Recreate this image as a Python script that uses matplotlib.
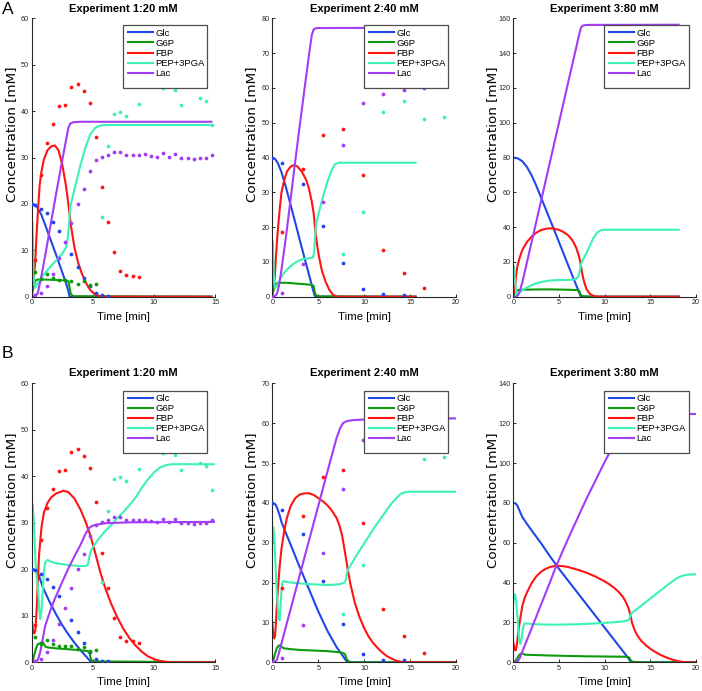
import matplotlib
matplotlib.use('Agg')
import matplotlib.pyplot as plt
from matplotlib.patches import Rectangle
from matplotlib.lines import Line2D

# ---------------- labels / style ----------------
species = ['Glc', 'G6P', 'FBP', 'PEP+3PGA', 'Lac']
colors = ['#2147e6', '#0e9a0e', '#ff1414', '#3cf2b4', '#a23cf5']
titles = ['Experiment 1:20 mM', 'Experiment 2:40 mM', 'Experiment 3:80 mM']
xmax = [15, 20, 20]
ymax_A = [60, 80, 160]
ymax_B = [60, 70, 140]
ystep_A = [10, 10, 20]
ystep_B = [10, 10, 20]

# ---------------- experimental data (dots) ----------------
exp1_glc_t = [0, 0.25, 0.75, 1.25, 1.75, 2.25, 3.25, 3.75, 4.25, 4.75, 5.25, 5.75, 6.25]
exp1_glc = [20, 19.8, 19.0, 18.0, 16.2, 14.2, 9.1, 6.5, 4.1, 2.2, 0.7, 0.36, 0.2]
exp1_g6p_t = [0.25, 0.75, 1.25, 1.75, 2.25, 2.75, 3.25, 3.75, 4.25, 4.75, 5.25]
exp1_g6p = [5.4, 3.9, 4.9, 4.0, 3.6, 3.6, 3.4, 2.8, 3.3, 2.5, 2.7]
exp1_fbp_t = [0.25, 0.75, 1.25, 1.75, 2.25, 2.75, 3.25, 3.75, 4.25, 4.75, 5.25, 5.75,
              6.25, 6.75, 7.25, 7.75, 8.25, 8.75]
exp1_fbp = [8.0, 26.2, 33.2, 37.2, 41.1, 41.3, 45.3, 45.8, 44.4, 41.8, 34.5, 23.6,
            16.0, 9.6, 5.5, 4.6, 4.5, 4.2]
exp1_pep_t = [5.75, 6.25, 6.75, 7.25, 7.75, 8.75, 10.75, 11.75, 12.25, 13.75, 14.25, 14.75]
exp1_pep = [17.2, 32.5, 39.4, 39.8, 38.9, 41.6, 45.0, 44.5, 41.3, 42.8, 42.2, 37.0]
exp1_lac_t = [0.25, 0.75, 1.25, 1.75, 2.25, 2.75, 3.25, 3.75, 4.25, 4.75, 5.25, 5.75,
              6.25, 6.75, 7.25, 7.75, 8.25, 8.75, 9.25, 9.75, 10.25, 10.75, 11.25,
              11.75, 12.25, 12.75, 13.25, 13.75, 14.25, 14.75]
exp1_lac = [0.3, 0.7, 2.3, 4.9, 8.3, 11.7, 15.9, 20.0, 23.3, 27.1, 29.5, 30.2,
            30.5, 31.2, 31.2, 30.5, 30.5, 30.5, 30.7, 30.4, 30.2, 30.9, 30.2,
            30.8, 30.0, 30.0, 29.7, 30.0, 30.0, 30.6]

exp2_glc_t = [0, 1.1, 3.3, 5.5, 7.7, 9.9, 12.1, 14.3]
exp2_glc = [40, 38.3, 32.3, 20.4, 9.7, 2.1, 0.7, 0.5]
exp2_fbp_t = [1.1, 3.3, 5.5, 7.7, 9.9, 12.1, 14.3, 16.5]
exp2_fbp = [18.7, 36.8, 46.5, 48.3, 35.0, 13.3, 6.7, 2.4]
exp2_pep_t = [7.7, 9.9, 12.1, 14.3, 16.5, 18.7]
exp2_pep = [12.2, 24.4, 53.2, 56.2, 51.1, 51.5]
exp2_lac_t = [0, 1.1, 3.3, 5.5, 7.7, 9.9, 12.1, 14.3, 16.5]
exp2_lac = [0, 1.2, 9.4, 27.3, 43.6, 55.7, 58.2, 59.4, 60.0]

# ---------------- model curves, model A ----------------
A1_glc_t = [0, 0.2, 0.4, 0.8, 1.2, 1.6, 2.0, 2.4, 2.8, 3.0, 3.1, 14.7]
A1_glc = [20, 19.9, 19.5, 17.6, 14.8, 11.9, 9.0, 6.0, 3.0, 1.2, 0, 0]
A1_g6p_t = [0, 0.1, 0.3, 0.5, 1.0, 2.0, 2.8, 3.0, 3.1, 3.2, 3.4, 14.7]
A1_g6p = [0, 1.5, 3.5, 3.7, 3.7, 3.6, 3.5, 3.3, 2.0, 0.6, 0.1, 0]
A1_fbp_t = [0, 0.1, 0.2, 0.3, 0.4, 0.5, 0.65, 0.8, 1.0, 1.3, 1.6, 1.9, 2.2, 2.5, 2.8,
            3.0, 3.2, 3.5, 3.8, 4.1, 4.5, 4.8, 5.2, 5.6, 6.0, 14.7]
A1_fbp = [4, 2.5, 4.5, 8, 13.5, 18, 24, 27, 29.6, 31.6, 32.4, 32.6, 31.5, 28.5, 24,
          20, 15.5, 10.6, 7.3, 5.0, 2.7, 1.4, 0.5, 0.1, 0, 0]
A1_pep_t = [0, 0.05, 0.1, 0.15, 0.22, 0.3, 0.5, 1.0, 1.5, 2.0, 2.5, 2.8, 2.95, 3.05,
            3.15, 3.3, 3.6, 4.0, 4.4, 4.8, 5.2, 5.6, 6.0, 14.7]
A1_pep = [15, 16, 12, 5, 2.5, 2.0, 3.0, 4.8, 6.4, 7.8, 9.3, 10.6, 12.5, 15.5,
          19.3, 21, 24.2, 28.5, 32.2, 35, 36.4, 36.9, 37, 37]
A1_lac_t = [0, 0.3, 0.5, 0.8, 1.2, 1.6, 2.0, 2.4, 2.8, 3.0, 3.15, 3.4, 4.0, 14.7]
A1_lac = [0, 0.1, 0.8, 4.5, 10.3, 16.3, 22.2, 28, 33.6, 36.4, 37.3, 37.6, 37.7, 37.7]

A2_glc_t = [0, 0.3, 0.6, 1.0, 1.5, 2.0, 2.5, 3.0, 3.5, 4.0, 4.4, 4.6, 4.7, 15.6]
A2_glc = [40, 39.6, 38.4, 35.8, 31.3, 26.3, 21.3, 16.2, 11.2, 6.3, 2.3, 0.4, 0, 0]
A2_g6p_t = [0, 0.1, 0.3, 0.6, 1.5, 2.5, 3.5, 4.3, 4.5, 4.65, 4.8, 5.2, 15.6]
A2_g6p = [0, 1.5, 3.5, 4.0, 4.0, 3.8, 3.6, 3.4, 3.1, 1.0, 0.3, 0.1, 0]
A2_fbp_t = [0, 0.1, 0.2, 0.3, 0.4, 0.5, 0.6, 0.8, 1.0, 1.3, 1.6, 2.0, 2.3, 2.7, 3.2,
            3.7, 4.0, 4.3, 4.5, 4.7, 4.9, 5.1, 5.4, 5.8, 6.2, 6.6, 7.0, 15.6]
A2_fbp = [4, 2.5, 3.5, 7, 11.5, 15.5, 19, 25, 30, 33.5, 36, 37.4, 37.8, 37.5, 36,
          33.5, 31, 27.3, 24, 18.5, 14.5, 11.3, 7.5, 4.3, 2.0, 0.6, 0, 0]
A2_pep_t = [0, 0.05, 0.1, 0.2, 0.3, 0.5, 0.8, 1.2, 1.6, 2.0, 2.5, 3.0, 3.5, 4.0, 4.4,
            4.55, 4.65, 4.75, 5.0, 5.3, 5.6, 6.0, 6.4, 6.8, 7.2, 15.6]
A2_pep = [15, 16, 12, 4, 2.5, 3, 4.8, 6.6, 7.8, 8.8, 9.8, 10.5, 10.9, 11.0, 11.2,
          12.5, 17, 20.5, 23.5, 26.5, 29.5, 33, 36, 38, 38.5, 38.5]
A2_lac_t = [0, 0.3, 0.5, 0.7, 1.0, 1.5, 2.0, 2.5, 3.0, 3.5, 4.0, 4.3, 4.5, 4.7, 5.0, 15.6]
A2_lac = [0, 0.2, 0.8, 2.8, 7.8, 17.5, 28.2, 39, 49.4, 59.6, 69.6, 75.2, 76.8, 77.1, 77.2, 77.3]

A3_glc_t = [0, 0.5, 1.0, 1.5, 2.0, 2.5, 3.0, 3.5, 4.0, 4.5, 5.0, 5.5, 6.0, 6.5, 7.0,
            7.3, 7.4, 18.1]
A3_glc = [80, 79.5, 77.8, 74.5, 69.8, 64, 57.5, 51, 44.5, 38, 31.4, 24.8, 18.2, 11.6,
          5.2, 1.2, 0, 0]
A3_g6p_t = [0, 0.1, 0.3, 0.6, 1, 2, 3, 4, 5, 6, 7, 7.2, 7.35, 7.5, 7.8, 8.5, 18.1]
A3_g6p = [0, 1.5, 3.2, 3.9, 4, 4.1, 4.2, 4.2, 4.1, 4, 3.8, 3.5, 1.5, 0.5, 0.2, 0, 0]
A3_fbp_t = [0, 0.1, 0.2, 0.3, 0.45, 0.7, 1.0, 1.5, 2.0, 2.5, 3.0, 3.5, 4.0, 4.5, 5.0,
            5.5, 6.0, 6.5, 6.9, 7.2, 7.35, 7.5, 7.7, 8.0, 8.4, 8.8, 9.2, 18.1]
A3_fbp = [4, 2.5, 6, 12, 17.5, 22.5, 27, 31.5, 34.5, 36.7, 38.2, 39.0, 39.3, 39.1, 38.4,
          37.2, 35.3, 32.2, 28, 23, 19.5, 14.5, 9.5, 4.5, 1.5, 0.4, 0, 0]
A3_pep_t = [0, 0.05, 0.1, 0.2, 0.3, 0.4, 0.6, 1.0, 1.5, 2.0, 2.5, 3.0, 4.0, 5.0, 6.0,
            6.8, 7.1, 7.25, 7.4, 7.6, 8.0, 8.4, 8.8, 9.2, 9.6, 10.0, 18.1]
A3_pep = [16, 17.5, 16, 9, 3, 1.2, 1.8, 3.8, 5.3, 6.6, 7.7, 8.4, 9.3, 9.6, 9.6,
          10, 11.5, 14, 18.5, 21, 25, 29.5, 34, 37, 38.2, 38.5, 38.5]
A3_lac_t = [0, 0.3, 0.5, 0.7, 1.0, 2, 3, 4, 5, 6, 7, 7.2, 7.4, 7.6, 8, 18.1]
A3_lac = [0, 0.1, 0.8, 3, 8.5, 31.3, 54.2, 77.1, 100, 123, 145.8, 150.5, 154.5,
          155.8, 156.2, 156.3]

# ---------------- model curves, model B ----------------
B1_glc_t = [0, 0.2, 0.4, 0.6, 0.8, 1.0, 1.5, 2.0, 2.5, 3.0, 3.5, 4.0, 4.5, 4.8, 4.9, 15]
B1_glc = [20, 19.9, 19.5, 18.6, 17.0, 15.6, 12.8, 10.3, 8.0, 6.0, 4.2, 2.6, 1.1, 0.2, 0, 0]
B1_g6p_t = [0, 0.1, 0.2, 0.35, 0.5, 0.7, 0.85, 1.0, 1.1, 1.3, 2, 3, 4, 4.6, 4.75,
            4.85, 5.0, 15]
B1_g6p = [0, 0.5, 1.5, 3.0, 3.9, 4.1, 4.4, 4.0, 3.4, 3.2, 3.0, 2.8, 2.6, 2.4, 1.8,
          0.6, 0.2, 0]
B1_fbp_t = [0, 0.1, 0.2, 0.3, 0.4, 0.5, 0.6, 0.8, 1.0, 1.3, 1.6, 2.0, 2.6, 3.0, 3.5,
            4.0, 4.4, 4.8, 5.2, 5.6, 6.0, 6.5, 7.0, 7.5, 8.0, 8.5, 9.0, 9.5, 10.0,
            10.5, 11.0, 11.5, 15]
B1_fbp = [9.5, 7, 6.2, 6.8, 11, 17, 23, 29, 32.2, 34.3, 35.5, 36.3, 36.9, 36.6, 35.2,
          32.8, 30.3, 27.3, 23.5, 19.5, 16.1, 12.6, 9.7, 7.2, 5.2, 3.6, 2.3, 1.3, 0.7,
          0.3, 0.1, 0, 0]
B1_pep_t = [0, 0.05, 0.1, 0.2, 0.3, 0.4, 0.5, 0.6, 0.7, 0.8, 0.9, 1.0, 1.1, 1.3, 1.6,
            2, 2.5, 3, 3.5, 4, 4.4, 4.6, 4.7, 4.8, 5.0, 5.5, 6, 6.5, 7, 7.5, 8, 8.5,
            9, 9.5, 10, 10.5, 11, 11.5, 12, 15]
B1_pep = [32, 34, 33.5, 29, 22, 18.5, 16.5, 12, 9.3, 11, 15.5, 19.5, 21.5, 22, 21.6,
          21.3, 21.1, 20.9, 20.8, 20.7, 20.7, 21, 22.5, 23.6, 24.8, 26.6, 28.2, 29.5,
          31, 32.3, 33.8, 35.4, 37.5, 39.3, 40.8, 41.9, 42.4, 42.6, 42.6, 42.6]
B1_lac_t = [0, 0.3, 0.5, 0.7, 0.9, 1.1, 1.4, 1.7, 2.0, 2.5, 3.0, 3.5, 4.0, 4.4, 4.7,
            5.0, 5.5, 6, 8, 15]
B1_lac = [0, 0.1, 0.5, 2.2, 5, 7.8, 10.2, 12.4, 14.3, 17.3, 20.2, 22.8, 25.3, 27.6,
          28.9, 29.4, 29.7, 29.9, 30.1, 30.2]

B2_glc_t = [0, 0.3, 0.5, 0.8, 1.0, 1.5, 2, 3, 4, 5, 6, 7, 7.5, 8.0, 8.2, 20]
B2_glc = [40, 39.7, 38.9, 36.9, 35.2, 32.3, 29.5, 23.8, 18.3, 12.8, 7.9, 3.8, 2.2, 0.5, 0, 0]
B2_g6p_t = [0, 0.15, 0.3, 0.5, 0.7, 0.9, 1.1, 1.3, 2, 3, 4, 5, 6, 7, 7.6, 7.9, 8.1,
            8.3, 8.8, 20]
B2_g6p = [0, 0.8, 2.2, 3.6, 4.2, 4.3, 3.7, 3.5, 3.3, 3.1, 3.0, 2.9, 2.8, 2.6, 2.4,
          2.1, 0.8, 0.2, 0, 0]
B2_fbp_t = [0, 0.1, 0.2, 0.3, 0.4, 0.5, 0.6, 0.8, 1.0, 1.3, 1.6, 2.0, 2.5, 3.0, 3.5,
            4.0, 4.5, 5.0, 5.5, 6.0, 6.5, 7.0, 7.3, 7.6, 7.9, 8.2, 8.5, 9.0, 9.5, 10,
            10.5, 11, 11.5, 12, 12.5, 13, 13.5, 14, 14.5, 20]
B2_fbp = [10, 7, 6, 6.5, 10, 14.5, 18, 24, 28.5, 33, 36.3, 39.2, 41.2, 42.1, 42.4,
          42.4, 42.0, 41.2, 40.4, 39.4, 38.0, 36.2, 34.4, 31.8, 27.8, 23.5, 19.7, 14.8,
          11.3, 8.6, 6.4, 4.8, 3.5, 2.4, 1.5, 0.9, 0.4, 0.15, 0, 0]
B2_pep_t = [0, 0.05, 0.1, 0.2, 0.3, 0.4, 0.5, 0.6, 0.7, 0.8, 0.9, 1.0, 1.1, 1.2, 1.5,
            2, 3, 4, 5, 6, 7, 7.5, 7.8, 8.0, 8.1, 8.3, 8.6, 9, 9.5, 10, 10.5, 11, 11.5,
            12, 12.5, 13, 13.5, 14, 14.5, 15, 20]
B2_pep = [30, 33.5, 34, 32, 27, 22, 17, 13.5, 11, 10.5, 14, 18, 20, 20.4, 20.2, 20,
          19.8, 19.6, 19.5, 19.4, 19.5, 19.7, 19.9, 20.6, 22.2, 23.5, 24.6, 26.2, 28.0,
          29.8, 31.6, 33.4, 35.1, 36.7, 38.3, 39.9, 41.2, 42.3, 42.7, 42.8, 42.8]
B2_lac_t = [0, 0.3, 0.5, 0.7, 1.0, 1.5, 2, 3, 4, 5, 6, 7, 7.4, 7.7, 8.0, 8.3, 9, 10,
            12, 15, 20]
B2_lac = [0, 0.1, 0.6, 2.2, 4.8, 9.1, 13.4, 22, 30.6, 39.2, 47.8, 56.3, 58.8, 60.0,
          60.4, 60.6, 60.8, 60.9, 61.0, 61.1, 61.2]

B3_glc_t = [0, 0.2, 0.4, 0.6, 0.8, 1.0, 1.5, 2, 3, 4, 5, 6, 7, 8, 9, 10, 11, 12, 12.5,
            12.8, 12.9, 20]
B3_glc = [80, 79.8, 79, 77, 74.8, 72.8, 69.4, 66.2, 60, 53.3, 46.9, 41, 35.1, 29.2,
          23.3, 17.4, 11.5, 5.6, 2.6, 0.6, 0, 0]
B3_g6p_t = [0, 0.2, 0.4, 0.6, 0.8, 0.95, 1.1, 1.3, 2, 4, 6, 8, 10, 12, 12.5, 12.7,
            12.85, 13, 13.3, 14, 20]
B3_g6p = [0, 0.5, 1.8, 3.4, 4.3, 4.6, 4.2, 3.8, 3.7, 3.4, 3.2, 3.0, 2.9, 2.8, 2.7,
          2.4, 1, 0.4, 0.1, 0, 0]
B3_fbp_t = [0, 0.1, 0.2, 0.3, 0.4, 0.5, 0.6, 0.8, 1.0, 1.3, 1.6, 2, 2.5, 3, 3.5, 4,
            4.5, 5, 5.5, 6, 7, 8, 9, 10, 10.5, 11, 11.5, 12, 12.3, 12.6, 12.8, 13,
            13.3, 13.6, 14, 14.5, 15, 15.5, 16, 16.5, 17, 17.5, 18, 18.5, 19, 20]
B3_fbp = [10, 7.5, 6.0, 6.3, 9.5, 13, 17, 23, 28.5, 33, 36, 39.7, 43, 45.3, 46.8,
          47.8, 48.3, 48.4, 48.2, 47.8, 46.5, 45, 43, 40.6, 39.2, 37.5, 35.5, 32.8,
          30.5, 27.3, 24, 19.8, 16, 13.3, 10.8, 8.6, 6.8, 5.3, 4.0, 2.9, 2.0, 1.2,
          0.6, 0.2, 0, 0]
B3_pep_t = [0, 0.1, 0.2, 0.3, 0.4, 0.5, 0.6, 0.7, 0.8, 0.9, 1.0, 1.1, 1.2, 1.4, 2, 3,
            4, 5, 6, 7, 8, 9, 10, 11, 12, 12.5, 12.7, 12.8, 13, 13.5, 14, 14.5, 15,
            15.5, 16, 16.5, 17, 17.5, 18, 18.5, 19, 19.5, 20]
B3_pep = [30, 33.5, 34.2, 31, 26, 20, 14, 10, 9.3, 11.5, 15, 18, 19.3, 19.5, 19.2, 19,
          18.9, 18.9, 19, 19.1, 19.3, 19.5, 19.8, 20.1, 20.5, 21, 21.6, 23.5, 24.8,
          26.6, 28.4, 30.2, 32, 33.8, 35.6, 37.4, 39.2, 40.9, 42.4, 43.4, 43.9, 44.1,
          44.1]
B3_lac_t = [0, 0.3, 0.5, 0.7, 1.0, 2, 3, 4, 4.7, 6, 8, 10, 10.8, 12, 12.6, 12.9,
            13.3, 20]
B3_lac = [0, 0.1, 0.6, 2, 5.5, 17, 28.5, 40, 48.4, 62, 82, 100.5, 107.5, 117.5,
          122.5, 124, 124.4, 124.6]

# ---------------- assemble ----------------
exp_data = [
    [(exp1_glc_t, exp1_glc), (exp1_g6p_t, exp1_g6p), (exp1_fbp_t, exp1_fbp),
     (exp1_pep_t, exp1_pep), (exp1_lac_t, exp1_lac)],
    [(exp2_glc_t, exp2_glc), None, (exp2_fbp_t, exp2_fbp),
     (exp2_pep_t, exp2_pep), (exp2_lac_t, exp2_lac)],
    [None, None, None, None, None],
]
model_A = [
    [(A1_glc_t, A1_glc), (A1_g6p_t, A1_g6p), (A1_fbp_t, A1_fbp), (A1_pep_t, A1_pep), (A1_lac_t, A1_lac)],
    [(A2_glc_t, A2_glc), (A2_g6p_t, A2_g6p), (A2_fbp_t, A2_fbp), (A2_pep_t, A2_pep), (A2_lac_t, A2_lac)],
    [(A3_glc_t, A3_glc), (A3_g6p_t, A3_g6p), (A3_fbp_t, A3_fbp), (A3_pep_t, A3_pep), (A3_lac_t, A3_lac)],
]
model_B = [
    [(B1_glc_t, B1_glc), (B1_g6p_t, B1_g6p), (B1_fbp_t, B1_fbp), (B1_pep_t, B1_pep), (B1_lac_t, B1_lac)],
    [(B2_glc_t, B2_glc), (B2_g6p_t, B2_g6p), (B2_fbp_t, B2_fbp), (B2_pep_t, B2_pep), (B2_lac_t, B2_lac)],
    [(B3_glc_t, B3_glc), (B3_g6p_t, B3_g6p), (B3_fbp_t, B3_fbp), (B3_pep_t, B3_pep), (B3_lac_t, B3_lac)],
]

# ---------------- figure ----------------
W, H = 702, 691
fig = plt.figure(figsize=(W / 100, H / 100), dpi=100)
FONT = 'Liberation Sans'
plt.rcParams['font.family'] = [FONT, 'DejaVu Sans']
AX_COL = '#262626'

col_left = [31.7, 272.3, 513.3]
col_right = [215.0, 456.0, 696.0]
row_top = [18.3, 383.3]
row_bot = [296.7, 662.3]
leg_left = [123.3, 364.3, 604.3]
leg_right = [207.3, 448.3, 688.7]
leg_top = [25.0, 390.7]
leg_bot = [87.7, 452.7]

handles = [Line2D([], [], color=c, lw=1.5) for c in colors]

for r, (models, ymaxs, ysteps) in enumerate([(model_A, ymax_A, ystep_A), (model_B, ymax_B, ystep_B)]):
    for c in range(3):
        l, rgt = col_left[c], col_right[c]
        t, b = row_top[r], row_bot[r]
        ax = fig.add_axes([l / W, 1 - b / H, (rgt - l) / W, (b - t) / H])
        for k in range(5):
            tt, vv = models[c][k]
            ax.plot(tt, vv, color=colors[k], lw=1.5, zorder=2, solid_joinstyle='round')
        for k in range(5):
            d = exp_data[c][k]
            if d is not None:
                ax.plot(d[0], d[1], 'o', color=colors[k], ms=2.7, mec='none', zorder=3)
        ax.set_xlim(0, xmax[c])
        ax.set_ylim(0, ymaxs[c])
        ax.set_xticks(range(0, xmax[c] + 1, 5))
        ax.set_yticks(range(0, ymaxs[c] + 1, ysteps[c]))
        for s in ['top', 'right']:
            ax.spines[s].set_visible(False)
        for s in ['left', 'bottom']:
            ax.spines[s].set_color(AX_COL)
            ax.spines[s].set_linewidth(0.8)
        ax.tick_params(direction='in', length=2.5, width=0.7, colors=AX_COL,
                       labelsize=5.2, pad=2)
        ax.set_xlabel('Time [min]', fontsize=8.2, color='#000000')
        ax.xaxis.set_label_coords(0.5, -20.0 / (b - t))
        ax.xaxis.label.set_va('center')
        ax.set_ylabel('Concentration [mM]', fontsize=9.7, color='#000000',
                      family=['DejaVu Sans'])
        ax.yaxis.set_label_coords(-20.5 / (rgt - l), 0.5 + 23.0 / (b - t))
        ax.yaxis.label.set_va('center')
        ax.set_title(titles[c], fontsize=8, fontweight='bold', y=1 + (9.5 if r == 0 else 10.3) / (b - t),
                     va='center', pad=0)
        # legend box
        rect = Rectangle((leg_left[c] / W, 1 - leg_bot[r] / H),
                         (leg_right[c] - leg_left[c]) / W, (leg_bot[r] - leg_top[r]) / H,
                         transform=fig.transFigure, facecolor='white', edgecolor='#4d4d4d',
                         lw=0.9, zorder=4, clip_on=False)
        ax.add_patch(rect)
        mid = (leg_top[r] + leg_bot[r]) / 2 - 3.0
        leg = ax.legend(handles, species, loc='center left',
                        bbox_to_anchor=((leg_left[c] + 4.3) / W, 1 - mid / H),
                        bbox_transform=fig.transFigure, frameon=False, borderpad=0,
                        borderaxespad=0, handlelength=2.72,
                        handletextpad=0.2, labelspacing=0.12, prop={'family': FONT, 'size': 6.8})
        leg.set_zorder(5)

fig.text(2 / W, 1 - 2 / H, 'A', fontsize=12.5, ha='left', va='top')
fig.text(2 / W, 1 - 346 / H, 'B', fontsize=12.5, ha='left', va='top')

fig.savefig('out.png', dpi=100)
